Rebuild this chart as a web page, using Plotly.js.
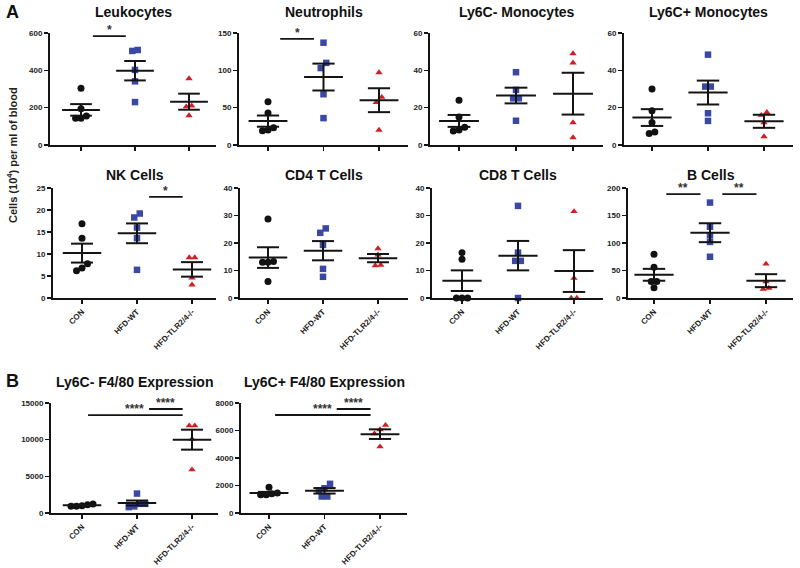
<!DOCTYPE html>
<html>
<head>
<meta charset="utf-8">
<script src="https://cdn.plot.ly/plotly-3.0.1.min.js"></script>
<style>html,body{margin:0;padding:0;background:#fff;}#chart{width:800px;height:568px;}</style>
</head>
<body>
<div id="chart"></div>
<script>
// ---------- DATA ----------
const categories = ['CON', 'HFD-WT', 'HFD-TLR2/4-/-'];

const leukocytes = [[304, 194, 155, 143, 143], [509, 504, 402, 341, 230], [356, 210, 205, 158]];
const leukocytesMean = [188, 398, 232];
const leukocytesSEM = [31, 52, 43];

const neutrophils = [[58, 43, 23, 19, 20], [137, 110, 103, 68, 36], [97, 64, 57, 20]];
const neutrophilsMean = [32, 91, 60];
const neutrophilsSEM = [7.5, 18, 16];

const ly6cNegMono = [[24, 15, 9.5, 7.5, 8], [39, 29.5, 25, 25, 13], [49, 44, 12, 4]];
const ly6cNegMonoMean = [12.9, 26.5, 27.5];
const ly6cNegMonoSEM = [3.2, 4.2, 11.2];

const ly6cPosMono = [[30, 18.3, 12, 6.1, 7], [48.4, 31.3, 31.3, 17, 12.9], [17.5, 16, 12, 4.5]];
const ly6cPosMonoMean = [14.7, 28.1, 12.7];
const ly6cPosMonoSEM = [4.5, 6.4, 3.5];

const nkCells = [[16.9, 13.6, 7.8, 6.2, 6.8], [19.2, 18.3, 16, 13.6, 6.4], [9.2, 9.2, 4.6, 3.0]];
const nkCellsMean = [10.2, 14.7, 6.5];
const nkCellsSEM = [2.15, 2.25, 1.65];

const cd4Cells = [[28.7, 13, 13, 13.3, 6], [25.3, 23.7, 19.3, 10.6, 7.7], [18, 15.7, 11.8, 12]];
const cd4CellsMean = [14.7, 17.2, 14.5];
const cd4CellsSEM = [3.75, 3.5, 1.5];

const cd8Cells = [[16.5, 14.1, 0, 0, 0], [33.5, 16.5, 13.5, 13.5, 0], [31.5, 7.2, 0, 0]];
const cd8CellsMean = [6.3, 15.4, 9.8];
const cd8CellsSEM = [3.75, 5.35, 7.6];

const bCells = [[79.5, 56, 30, 30, 18.5], [173.5, 129.5, 114, 102, 75], [62, 30, 18, 16]];
const bCellsMean = [42.2, 118.7, 31.5];
const bCellsSEM = [10.8, 17.2, 11.8];

const ly6cNegF480 = [[1227, 1000, 909, 909, 1136], [2650, 1250, 800, 900, 1250], [11900, 11900, 10090, 5900]];
const ly6cNegF480Mean = [1045, 1364, 10000];
const ly6cNegF480SEM = [80, 340, 1360];

const ly6cPosF480 = [[1870, 1320, 1400, 1330, 1450], [2120, 1800, 1650, 1200, 1200], [6390, 6070, 5780, 4820]];
const ly6cPosF480Mean = [1446, 1614, 5735];
const ly6cPosF480SEM = [90, 200, 350];

// significance comparisons: [groupA, groupB, height, label]
const leukocytesSig = [[0, 1, 583, '*']];
const neutrophilsSig = [[0, 1, 142, '*']];
const nkCellsSig = [[1, 2, 23, '*']];
const bCellsSig = [[0, 1, 189, '**'], [1, 2, 189, '**']];
const ly6cNegF480Sig = [[0, 2, 13360, '****'], [1, 2, 14180, '****']];
const ly6cPosF480Sig = [[0, 2, 7127, '****'], [1, 2, 7564, '****']];

// ---------- LAYOUT / STYLE ----------
const W = 800, H = 568;
const FONT = 'Arial, "Liberation Sans", sans-serif';
const INK = '#141414';
const groupStyle = [
  {symbol: 'circle', color: '#111111', size: 7},
  {symbol: 'square', color: '#3a47a4', size: 6.5},
  {symbol: 'triangle-up', color: '#d01f26', size: 6.5}
];

const row1 = {t: 33, b: 145, ty: 12, labels: false};
const row2 = {t: 188, b: 298, ty: 175, labels: true};
const row3 = {t: 403, b: 513, ty: 382, labels: true};

const panels = [
  {title: 'Leukocytes', d: leukocytes, m: leukocytesMean, e: leukocytesSEM, ymax: 600, dt: 200, sig: leukocytesSig, row: row1, l: 50, c: 81, s: 54, r: 216},
  {title: 'Neutrophils', d: neutrophils, m: neutrophilsMean, e: neutrophilsSEM, ymax: 150, dt: 50, sig: neutrophilsSig, row: row1, l: 239, c: 268, s: 55.5, r: 408},
  {title: 'Ly6C- Monocytes', d: ly6cNegMono, m: ly6cNegMonoMean, e: ly6cNegMonoSEM, ymax: 60, dt: 20, sig: [], row: row1, l: 430, c: 459, s: 57, r: 603},
  {title: 'Ly6C+ Monocytes', d: ly6cPosMono, m: ly6cPosMonoMean, e: ly6cPosMonoSEM, ymax: 60, dt: 20, sig: [], row: row1, l: 624, c: 652, s: 56, r: 793},
  {title: 'NK Cells', d: nkCells, m: nkCellsMean, e: nkCellsSEM, ymax: 25, dt: 5, sig: nkCellsSig, row: row2, l: 53, c: 82, s: 55, r: 216},
  {title: 'CD4 T Cells', d: cd4Cells, m: cd4CellsMean, e: cd4CellsSEM, ymax: 40, dt: 10, sig: [], row: row2, l: 240, c: 268, s: 55, r: 408},
  {title: 'CD8 T Cells', d: cd8Cells, m: cd8CellsMean, e: cd8CellsSEM, ymax: 40, dt: 10, sig: [], row: row2, l: 432, c: 462, s: 56, r: 603},
  {title: 'B Cells', d: bCells, m: bCellsMean, e: bCellsSEM, ymax: 200, dt: 50, sig: bCellsSig, row: row2, l: 628, c: 654, s: 56, r: 793},
  {title: 'Ly6C- F4/80 Expression', d: ly6cNegF480, m: ly6cNegF480Mean, e: ly6cNegF480SEM, ymax: 15000, dt: 5000, sig: ly6cNegF480Sig, row: row3, l: 51, c: 82, s: 55, r: 218},
  {title: 'Ly6C+ F4/80 Expression', d: ly6cPosF480, m: ly6cPosF480Mean, e: ly6cPosF480SEM, ymax: 8000, dt: 2000, sig: ly6cPosF480Sig, row: row3, l: 241, c: 269, s: 55.5, r: 407}
];

// horizontal spreading of points with nearly equal values (scatter dot plot)
function spread(vals, range) {
  const thr = 0.05 * range, step = 0.1;
  const idx = vals.map((v, i) => i).sort((a, b) => vals[a] - vals[b]);
  const off = new Array(vals.length).fill(0);
  let cluster = [];
  const flush = () => {
    const n = cluster.length;
    cluster.forEach((id, k) => { off[id] = (k - (n - 1) / 2) * step; });
    cluster = [];
  };
  idx.forEach((id, k) => {
    if (k > 0 && vals[id] - vals[idx[k - 1]] > thr) flush();
    cluster.push(id);
  });
  flush();
  return off;
}

const traces = [];
const shapes = [];
const annotations = [];
const layout = {
  width: W, height: H,
  margin: {l: 0, r: 0, t: 0, b: 0},
  paper_bgcolor: '#ffffff', plot_bgcolor: 'rgba(0,0,0,0)',
  showlegend: false,
  font: {family: FONT, color: INK},
  shapes: shapes, annotations: annotations
};

panels.forEach((p, k) => {
  const n = k + 1;
  const xa = n === 1 ? 'xaxis' : 'xaxis' + n;
  const ya = n === 1 ? 'yaxis' : 'yaxis' + n;
  const xr = n === 1 ? 'x' : 'x' + n;
  const yr = n === 1 ? 'y' : 'y' + n;
  const row = p.row;

  layout[xa] = {
    domain: [p.l / W, p.r / W],
    range: [(p.l - p.c) / p.s, (p.r - p.c) / p.s],
    anchor: yr, showgrid: false, zeroline: false,
    showline: true, linewidth: 2, linecolor: INK,
    ticks: 'outside', ticklen: 4, tickwidth: 1.5, tickcolor: INK,
    tickmode: 'array', tickvals: [0, 1, 2], ticktext: categories,
    showticklabels: row.labels, tickangle: -45,
    tickfont: {family: FONT, size: 8, color: '#222', weight: 700},
    fixedrange: true
  };
  layout[ya] = {
    domain: [1 - row.b / H, 1 - row.t / H],
    range: [0, p.ymax], anchor: xr,
    showgrid: false, zeroline: false,
    showline: true, linewidth: 2, linecolor: INK,
    ticks: 'outside', ticklen: 4, tickwidth: 1.5, tickcolor: INK,
    tick0: 0, dtick: p.dt, tickformat: 'd', exponentformat: 'none',
    tickfont: {family: FONT, size: 8, color: '#222', weight: 700},
    fixedrange: true
  };

  // points
  p.d.forEach((vals, g) => {
    const off = spread(vals, p.ymax);
    const st = groupStyle[g];
    traces.push({
      type: 'scatter', mode: 'markers', xaxis: xr, yaxis: yr,
      x: vals.map((v, i) => g + off[i]), y: vals,
      cliponaxis: false, hoverinfo: 'skip',
      marker: {symbol: st.symbol, color: st.color, size: st.size, line: {width: 0}}
    });
  });

  // mean and SEM
  const lx = [], ly = [];
  p.m.forEach((mu, g) => {
    const se = p.e[g];
    lx.push(g - 0.35, g + 0.35, null); ly.push(mu, mu, null);
    lx.push(g - 0.2, g + 0.2, null); ly.push(mu + se, mu + se, null);
    lx.push(g - 0.2, g + 0.2, null); ly.push(mu - se, mu - se, null);
    lx.push(g, g, null); ly.push(mu - se, mu + se, null);
  });
  traces.push({
    type: 'scatter', mode: 'lines', xaxis: xr, yaxis: yr,
    x: lx, y: ly, cliponaxis: false, hoverinfo: 'skip',
    line: {color: INK, width: 2}
  });

  // significance bars
  p.sig.forEach(([a, b, h, lab]) => {
    const long = (b - a) === 2;
    const x0 = long ? a + 0.11 : a + 0.22;
    const x1 = b - 0.17;
    shapes.push({type: 'line', xref: xr, yref: yr, x0: x0, x1: x1, y0: h, y1: h,
      line: {color: INK, width: 1.8}});
    annotations.push({
      xref: xr, yref: yr, x: long ? a + 1.17 : (x0 + x1) / 2, y: h,
      xanchor: long ? 'right' : 'center', yanchor: 'bottom', yshift: -3,
      text: lab, showarrow: false,
      font: {family: FONT, size: 12, color: '#333', weight: 700}
    });
  });

  // panel title
  annotations.push({
    xref: 'paper', yref: 'paper', x: (p.l + p.r) / 2 / W, y: 1 - row.ty / H,
    xanchor: 'center', yanchor: 'middle', text: p.title, showarrow: false,
    font: {family: FONT, size: 14, color: '#111', weight: 700}
  });
});

// panel letters & shared y title
annotations.push({xref: 'paper', yref: 'paper', x: 12 / W, y: 1 - 12 / H, xanchor: 'center', yanchor: 'middle',
  text: 'A', showarrow: false, font: {family: FONT, size: 18, color: '#111', weight: 700}});
annotations.push({xref: 'paper', yref: 'paper', x: 12 / W, y: 1 - 381 / H, xanchor: 'center', yanchor: 'middle',
  text: 'B', showarrow: false, font: {family: FONT, size: 18, color: '#111', weight: 700}});
annotations.push({xref: 'paper', yref: 'paper', x: 12 / W, y: 1 - 155 / H, xanchor: 'center', yanchor: 'middle',
  textangle: -90, text: 'Cells (10<sup>4</sup>) per ml of blood', showarrow: false,
  font: {family: FONT, size: 11, color: '#222', weight: 700}});

Plotly.newPlot('chart', traces, layout, {staticPlot: true, displayModeBar: false});
</script>
</body>
</html>
